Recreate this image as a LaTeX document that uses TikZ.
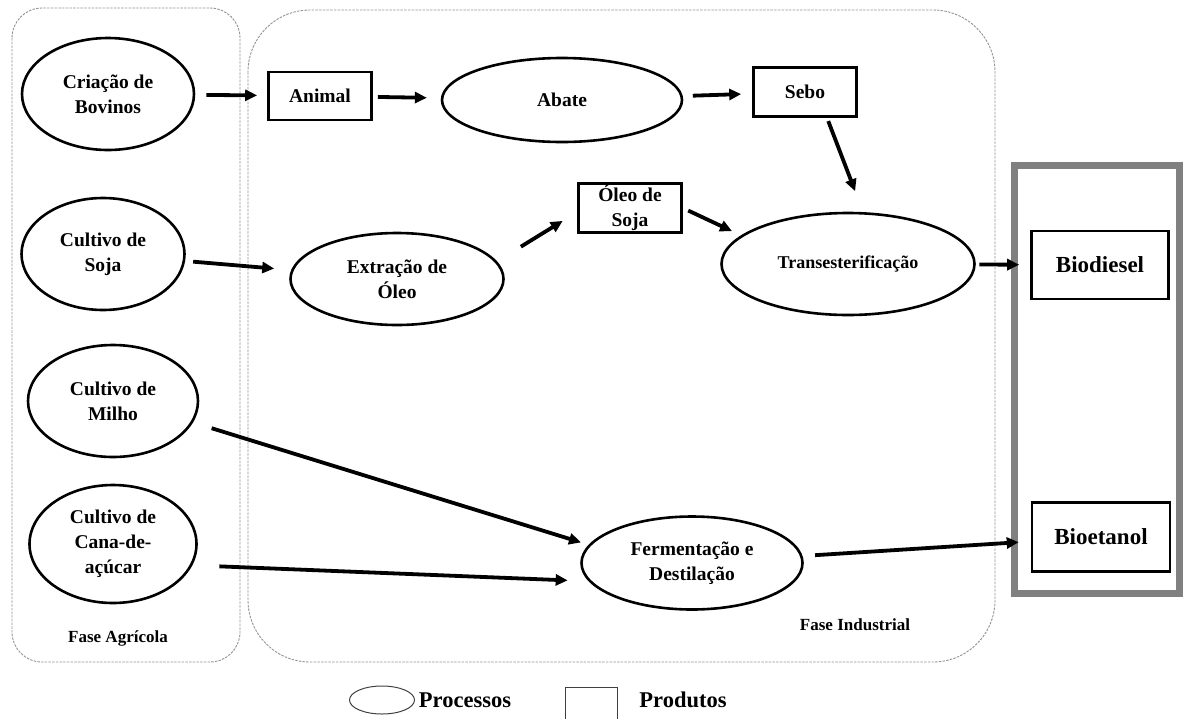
\documentclass[tikz,border=0pt]{standalone}
\usepackage{fontspec}
\setmainfont{Liberation Serif}
\usetikzlibrary{arrows.meta,shapes.geometric}

\tikzset{
  processo/.style n args={2}{ellipse,draw,line width=2.6pt,inner sep=0pt,align=center,
    minimum width=#1,minimum height=#2,font=\fontsize{19.5}{25}\selectfont\bfseries},
  produto/.style n args={2}{rectangle,draw,line width=2.6pt,inner sep=0pt,align=center,
    minimum width=#1,minimum height=#2,font=\fontsize{19.5}{25}\selectfont\bfseries},
  seta/.style={-{Triangle[length=12pt,width=11pt]},line width=3.8pt},
  fase/.style={draw=gray!85,line width=0.9pt,dash pattern=on 2.5pt off 1.2pt},
  fasetexto/.style={font=\fontsize{17}{20}\selectfont\bfseries},
  legenda/.style={font=\fontsize{22.5}{26}\selectfont\bfseries}
}

\begin{document}
\begin{tikzpicture}[x=1pt,y=-1pt]
  \useasboundingbox (0,0) rectangle (1183,718); %Picture size

  \draw[fase,rounded corners=30pt] (12,8) rectangle (240,662); %Agricultural phase
  \draw[fase,rounded corners=62pt] (248,10) rectangle (995,662); %Industrial phase
  \draw[line width=7pt,gray] (1014,165) rectangle (1179,593); %Final products

  \node[processo={172pt}{112pt}] (bovinos) at (108,94) {Criação de\\Bovinos}; %Agricultural process
  \node[processo={163pt}{112pt}] (soja) at (103,254) {Cultivo de\\Soja}; %Agricultural process
  \node[processo={170pt}{112pt}] (milho) at (113,401) {Cultivo de\\Milho}; %Agricultural process
  \node[processo={167pt}{118pt}] (cana) at (113,544) {Cultivo de\\Cana-de-\\açúcar}; %Agricultural process

  \node[produto={103pt}{48pt}] (animal) at (320,96) {Animal}; %Product
  \node[processo={240pt}{84pt}] (abate) at (562,100) {Abate}; %Industrial process
  \node[produto={103pt}{49pt}] (sebo) at (805,92) {Sebo}; %Product
  \node[processo={213pt}{92pt}] (extracao) at (397,279) {Extração de\\Óleo}; %Industrial process
  \node[produto={103pt}{49pt}] (oleo) at (630,208) {Óleo de\\Soja}; %Product
  \node[processo={253pt}{102pt},font=\fontsize{18}{22}\selectfont\bfseries] (trans) at (848,264) {Transesterificação}; %Industrial process
  \node[processo={221pt}{93pt}] (ferm) at (692,563) {Fermentação e\\Destilação}; %Industrial process

  \node[produto={137pt}{68pt},font=\fontsize{23}{27}\selectfont\bfseries] (biodiesel) at (1100,265) {Biodiesel}; %Final product
  \node[produto={138pt}{69pt},font=\fontsize{23}{27}\selectfont\bfseries] (bioetanol) at (1101,537) {Bioetanol}; %Final product

  \node[fasetexto] (agricola) at (118,638) {Fase Agrícola}; %Phase label
  \node[fasetexto] (industrial) at (855,625) {Fase Industrial}; %Phase label

  \draw[seta,shorten <=11pt,shorten >=10pt] (bovinos) -- (animal); %Bovinos to animal
  \draw[seta,shorten <=5pt,shorten >=14pt] (animal) -- (abate); %Animal to abate
  \draw[seta,shorten <=10pt,shorten >=11pt] (abate) -- (sebo); %Abate to sebo
  \draw[seta,shorten <=3.5pt,shorten >=22pt] ([xshift=22pt]sebo.south) -- ([xshift=15pt]trans.north); %Sebo to trans
  \draw[seta,shorten <=8pt,shorten >=17pt] (soja) -- (extracao); %Soja to extracao
  \draw[seta,shorten <=28pt,shorten >=17pt] (extracao.10) -- ([yshift=-4pt]oleo.west); %Extracao to oleo
  \draw[seta,shorten <=6pt,shorten >=10pt] (oleo.east) -- (trans.165); %Oleo to trans
  \draw[seta,shorten <=3.5pt,shorten >=11pt] (trans) -- (biodiesel); %Trans to biodiesel
  \draw[seta,shorten <=19.5pt,shorten >=8pt] (milho.-15) -- (ferm.170); %Milho to ferm
  \draw[seta,shorten <=27pt,shorten >=21pt] (cana.-15) -- (ferm.190); %Cana to ferm
  \draw[seta,shorten <=12.5pt,shorten >=12pt] (ferm) -- (bioetanol); %Ferm to bioetanol

  \node[ellipse,draw=black!75,line width=1pt,minimum width=65pt,minimum height=28pt,inner sep=0pt] (legproc) at (382,700) {}; %Legend process
  \node[legenda] (legproctxt) at (465,700) {Processos}; %Legend process text
  \node[draw=black!75,line width=1pt,minimum width=52pt,minimum height=48pt,inner sep=0pt] (legprod) at (591,711) {}; %Legend product
  \node[legenda] (legprodtxt) at (683,700) {Produtos}; %Legend product text
\end{tikzpicture}
\end{document}
